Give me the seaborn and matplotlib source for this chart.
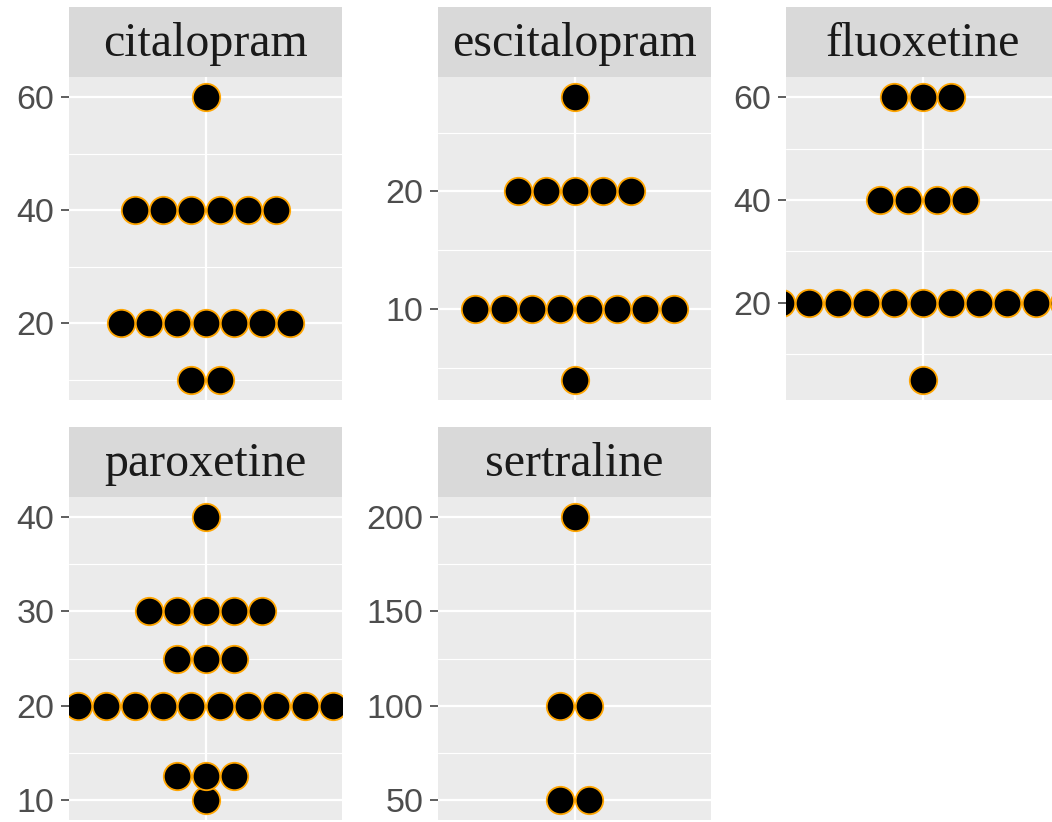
import numpy as np
import pandas as pd
import matplotlib
matplotlib.use('Agg')
import matplotlib.pyplot as plt
from matplotlib.ticker import MultipleLocator
import seaborn as sns

# doses (mg) and how many patients sit at each dose, per drug
drugs = ['citalopram', 'escitalopram', 'fluoxetine', 'paroxetine', 'sertraline']
citalopram_dose = [10, 20, 40, 60]
citalopram_n = [2, 7, 6, 1]
escitalopram_dose = [4, 10, 20, 28]
escitalopram_n = [1, 8, 5, 1]
fluoxetine_dose = [5, 20, 40, 60]
fluoxetine_n = [1, 11, 4, 3]
paroxetine_dose = [10, 12.5, 20, 25, 30, 40]
paroxetine_n = [1, 3, 10, 3, 5, 1]
sertraline_dose = [50, 100, 200]
sertraline_n = [2, 2, 1]
tick_step = [20, 10, 20, 10, 50]

doses = [citalopram_dose, escitalopram_dose, fluoxetine_dose, paroxetine_dose, sertraline_dose]
counts = [citalopram_n, escitalopram_n, fluoxetine_n, paroxetine_n, sertraline_n]

rows = []
for drug, dd, nn in zip(drugs, doses, counts):
    for d, n in zip(dd, nn):
        for i in range(n):
            rows.append({'drug': drug, 'dose': d, 'offset': i - (n - 1) / 2})
df = pd.DataFrame(rows)

sns.set_theme(style='darkgrid', rc={'axes.facecolor': '#EBEBEB', 'grid.color': 'white'})
plt.rcParams['font.family'] = ['Liberation Sans', 'DejaVu Sans']

W, H = 1052, 822
fig = plt.figure(figsize=(W / 100, H / 100), dpi=100)
col_left = [69, 438, 786]
row_top = [77, 497]
panel_w, panel_h, strip_h = 273, 323, 70

for k, drug in enumerate(drugs):
    r, c = divmod(k, 3)
    x0, y0 = col_left[c], row_top[r]
    ax = fig.add_axes([x0 / W, 1 - (y0 + panel_h) / H, panel_w / W, panel_h / H])
    sax = fig.add_axes([x0 / W, 1 - y0 / H, panel_w / W, strip_h / H])

    sub = df[df['drug'] == drug]
    sns.scatterplot(data=sub, x='offset', y='dose', s=390, color='black',
                    edgecolor='#FFA500', linewidth=1.3, ax=ax, legend=False, zorder=3)

    lo, hi = sub['dose'].min(), sub['dose'].max()
    pad = 0.072 * (hi - lo)
    ax.set_ylim(lo - pad, hi + pad)
    half = panel_w / 28.3 / 2
    ax.set_xlim(-half, half)
    ax.set_xticks([0])
    ax.set_xticklabels([])
    ax.yaxis.set_major_locator(MultipleLocator(tick_step[k]))
    ax.yaxis.set_minor_locator(MultipleLocator(tick_step[k] / 2))
    ax.grid(which='major', color='white', linewidth=1.6)
    ax.grid(which='minor', axis='y', color='white', linewidth=0.8)
    ax.tick_params(axis='x', length=0)
    ax.tick_params(axis='y', which='major', length=5.5, width=1.1, color='#333333',
                   labelsize=24.5, labelcolor='#4D4D4D', pad=5, left=True)
    ax.tick_params(axis='y', which='minor', length=0)
    ax.set_xlabel('')
    ax.set_ylabel('')
    for s in ax.spines.values():
        s.set_visible(False)

    sax.set_facecolor('#D9D9D9')
    sax.set_xticks([])
    sax.set_yticks([])
    sax.grid(False)
    for s in sax.spines.values():
        s.set_visible(False)
    sax.text(0.5, 0.47, drug, transform=sax.transAxes, ha='center', va='center',
             fontsize=34.5, color='#1A1A1A', family=['Liberation Serif', 'DejaVu Serif'])

fig.savefig('out.png', dpi=100)
